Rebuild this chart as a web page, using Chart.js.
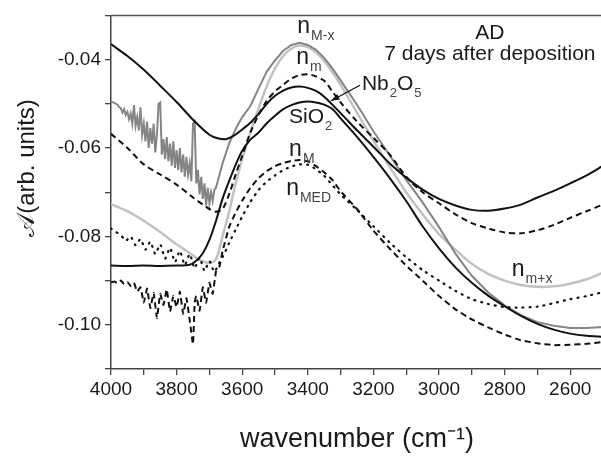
<!DOCTYPE html>
<html><head><meta charset="utf-8">
<script src="https://cdn.jsdelivr.net/npm/chart.js@4.4.1/dist/chart.umd.min.js"></script>
<style>
html,body{margin:0;padding:0;background:#fff;overflow:hidden;}
#wrap{position:relative;width:606px;height:457px;}
</style></head><body>
<div id="wrap"><canvas id="c"></canvas></div>
<script>
// ---------- data (wavenumber in cm^-1, absorbance in arb. units) ----------
const nb2o5X = [4000,3950,3900,3850,3800,3750,3700,3675,3650,3625,3600,3575,3550,3525,3500,3475,3450,3425,3400,3375,3350,3300,3250,3200,3150,3100,3050,3000,2950,2900,2850,2800,2750,2700,2650,2600,2550,2500];
const nb2o5Y = [-0.0365,-0.0392,-0.0423,-0.0459,-0.0496,-0.0536,-0.0570,-0.0578,-0.0580,-0.0572,-0.0558,-0.0543,-0.0523,-0.0500,-0.0482,-0.0470,-0.0463,-0.0461,-0.0464,-0.0471,-0.0484,-0.0521,-0.0560,-0.0597,-0.0635,-0.0667,-0.0694,-0.0715,-0.0730,-0.0740,-0.0742,-0.0737,-0.0728,-0.0712,-0.0697,-0.0680,-0.0662,-0.0640];

const sio2X = [4000,3950,3900,3850,3800,3760,3740,3720,3700,3680,3660,3640,3620,3600,3575,3550,3525,3500,3475,3450,3425,3400,3375,3350,3325,3300,3250,3200,3150,3100,3050,3000,2950,2900,2850,2800,2750,2700,2650,2600,2550,2500];
const sio2Y = [-0.0866,-0.0867,-0.0866,-0.0867,-0.0866,-0.0864,-0.0855,-0.0838,-0.0808,-0.0765,-0.0715,-0.0675,-0.0638,-0.0606,-0.0581,-0.0565,-0.0544,-0.0527,-0.0512,-0.0503,-0.0497,-0.0495,-0.0497,-0.0502,-0.0512,-0.0533,-0.0575,-0.0620,-0.0668,-0.0720,-0.0777,-0.0827,-0.0870,-0.0905,-0.0934,-0.0958,-0.0980,-0.0998,-0.1011,-0.1020,-0.1025,-0.1027];

const nMxX = [4000,3990,3980,3975,3970,3965,3960,3955,3950,3945,3940,3935,3930,3925,3920,3915,3910,3905,3900,3895,3890,3885,3880,3875,3870,3865,3860,3855,3850,3845,3840,3835,3830,3825,3820,3815,3810,3805,3800,3795,3790,3785,3780,3775,3770,3765,3760,3755,3750,3745,3740,3735,3730,3725,3720,3715,3710,3705,3700,3695,3690,3685,3680,3660,3640,3620,3600,3575,3550,3525,3500,3475,3450,3425,3400,3375,3350,3325,3300,3250,3200,3150,3100,3050,3000,2950,2900,2850,2800,2750,2700,2650,2600,2550,2500];
const nMxY = [-0.0495,-0.0498,-0.0502,-0.0508,-0.0510,-0.0520,-0.0512,-0.0525,-0.0518,-0.0535,-0.0522,-0.0545,-0.0503,-0.0550,-0.0530,-0.0560,-0.0508,-0.0570,-0.0545,-0.0585,-0.0540,-0.0600,-0.0555,-0.0590,-0.0545,-0.0610,-0.0570,-0.0500,-0.0497,-0.0615,-0.0580,-0.0625,-0.0575,-0.0630,-0.0590,-0.0640,-0.0585,-0.0645,-0.0605,-0.0650,-0.0600,-0.0655,-0.0615,-0.0665,-0.0620,-0.0660,-0.0635,-0.0675,-0.0545,-0.0540,-0.0680,-0.0650,-0.0705,-0.0665,-0.0715,-0.0680,-0.0730,-0.0690,-0.0725,-0.0700,-0.0720,-0.0695,-0.0690,-0.0635,-0.0590,-0.0557,-0.0530,-0.0505,-0.0465,-0.0427,-0.0402,-0.0380,-0.0367,-0.0362,-0.0367,-0.0378,-0.0396,-0.0420,-0.0447,-0.0502,-0.0562,-0.0617,-0.0672,-0.0723,-0.0779,-0.0839,-0.0889,-0.0927,-0.0956,-0.0978,-0.0994,-0.1002,-0.1007,-0.1007,-0.1005];

const nmxX = [4000,3950,3900,3850,3800,3750,3725,3700,3680,3660,3640,3620,3600,3575,3550,3525,3500,3475,3450,3425,3400,3375,3350,3325,3300,3250,3200,3150,3100,3050,3000,2950,2900,2850,2800,2750,2700,2650,2600,2550,2500];
const nmxY = [-0.0727,-0.0743,-0.0765,-0.0790,-0.0818,-0.0843,-0.0855,-0.0860,-0.0852,-0.0800,-0.0745,-0.0680,-0.0625,-0.0565,-0.0510,-0.0460,-0.0420,-0.0392,-0.0375,-0.0368,-0.0372,-0.0384,-0.0403,-0.0428,-0.0457,-0.0520,-0.0583,-0.0643,-0.0700,-0.0750,-0.0795,-0.0830,-0.0862,-0.0885,-0.0900,-0.0910,-0.0914,-0.0913,-0.0907,-0.0897,-0.0882];

const nmX = [4000,3950,3900,3850,3800,3750,3720,3700,3680,3660,3640,3620,3600,3575,3550,3525,3500,3475,3450,3425,3400,3375,3350,3325,3300,3250,3200,3150,3100,3050,3000,2950,2900,2850,2800,2750,2700,2650,2600,2550,2500];
const nmY = [-0.0568,-0.0600,-0.0637,-0.0660,-0.0683,-0.0712,-0.0728,-0.0738,-0.0744,-0.0738,-0.0705,-0.0660,-0.0618,-0.0565,-0.0525,-0.0493,-0.0472,-0.0457,-0.0443,-0.0435,-0.0433,-0.0438,-0.0448,-0.0472,-0.0497,-0.0540,-0.0577,-0.0615,-0.0665,-0.0700,-0.0725,-0.0750,-0.0770,-0.0782,-0.0791,-0.0793,-0.0786,-0.0774,-0.0758,-0.0743,-0.0728];

const nMX = [4000,3990,3980,3970,3960,3950,3940,3930,3920,3910,3900,3890,3880,3870,3860,3850,3840,3830,3820,3810,3800,3790,3780,3770,3760,3750,3745,3740,3730,3720,3710,3700,3690,3680,3670,3660,3640,3620,3600,3575,3550,3525,3500,3475,3450,3425,3400,3375,3350,3325,3300,3250,3200,3150,3100,3050,3000,2950,2900,2850,2800,2750,2700,2650,2600,2550,2500];
const nMY = [-0.0904,-0.0902,-0.0906,-0.0900,-0.0908,-0.0903,-0.0912,-0.0905,-0.0925,-0.0915,-0.0950,-0.0918,-0.0962,-0.0928,-0.0985,-0.0930,-0.0955,-0.0920,-0.0970,-0.0935,-0.0960,-0.0925,-0.0975,-0.0940,-0.0990,-0.1044,-0.0950,-0.0935,-0.0968,-0.0915,-0.0950,-0.0905,-0.0930,-0.0880,-0.0870,-0.0834,-0.0779,-0.0746,-0.0719,-0.0690,-0.0668,-0.0652,-0.0641,-0.0634,-0.0629,-0.0627,-0.0630,-0.0641,-0.0655,-0.0672,-0.0698,-0.0738,-0.0787,-0.0828,-0.0866,-0.0900,-0.0935,-0.0965,-0.0988,-0.1006,-0.1022,-0.1035,-0.1042,-0.1046,-0.1045,-0.1043,-0.1039];

const nMEDX = [4000,3985,3970,3955,3940,3925,3910,3895,3880,3865,3850,3835,3820,3805,3790,3775,3760,3745,3730,3715,3700,3685,3670,3655,3640,3620,3600,3575,3550,3525,3500,3475,3450,3425,3400,3375,3350,3325,3300,3250,3200,3150,3100,3050,3000,2950,2900,2850,2800,2750,2700,2650,2600,2550,2500];
const nMEDY = [-0.0782,-0.0790,-0.0797,-0.0810,-0.0800,-0.0820,-0.0806,-0.0830,-0.0812,-0.0840,-0.0818,-0.0850,-0.0826,-0.0858,-0.0833,-0.0865,-0.0840,-0.0872,-0.0848,-0.0878,-0.0856,-0.0880,-0.0860,-0.0840,-0.0815,-0.0785,-0.0755,-0.0722,-0.0695,-0.0676,-0.0662,-0.0650,-0.0642,-0.0637,-0.0638,-0.0648,-0.0663,-0.0684,-0.0705,-0.0740,-0.0777,-0.0814,-0.0847,-0.0876,-0.0900,-0.0923,-0.0942,-0.0953,-0.0960,-0.0961,-0.0959,-0.0951,-0.0942,-0.0935,-0.0926];

const xTickLabels = [4000,3800,3600,3400,3200,3000,2800,2600];
const yTickLabels = [-0.04,-0.06,-0.08,-0.10];

const pts = (xs, ys) => xs.map((x, i) => ({x, y: ys[i]}));

const FONT = '"Liberation Sans", Arial, sans-serif';

// annotation texts (segments: [text, isSubscript])
const notes = [
  {segs: [['AD',0]], x: 2845, y: -0.03542, center: true, size: 21},
  {segs: [['7 days after deposition',0]], x: 2845, y: -0.0400, center: true, size: 21},
  {segs: [['n',0],['M-x',1]], x: 3432, y: -0.0340, size: 23},
  {segs: [['n',0],['m',1]], x: 3435, y: -0.0409, size: 23},
  {segs: [['Nb',0],['2',1],['O',0],['5',1]], x: 3235, y: -0.0469, size: 21},
  {segs: [['SiO',0],['2',1]], x: 3457, y: -0.0544, size: 21},
  {segs: [['n',0],['M',1]], x: 3457, y: -0.0617, size: 23},
  {segs: [['n',0],['MED',1]], x: 3466, y: -0.0706, size: 23},
  {segs: [['n',0],['m+x',1]], x: 2778, y: -0.0890, size: 23}
];

const annot = {
  id: 'annot',
  afterDraw(chart) {
    const {ctx, chartArea: a, scales: {x, y}} = chart;
    ctx.save();
    ctx.strokeStyle = '#555'; ctx.lineWidth = 1.5;
    ctx.beginPath(); ctx.moveTo(a.left, a.top); ctx.lineTo(a.right + 2, a.top); ctx.stroke();
    ctx.textBaseline = 'alphabetic';
    for (const n of notes) {
      const subSize = Math.round(n.size * 0.6);
      let w = 0;
      for (const [t, s] of n.segs) {
        ctx.font = (s ? subSize : n.size) + 'px ' + FONT;
        w += ctx.measureText(t).width + (s ? 1 : 0);
      }
      let px = x.getPixelForValue(n.x);
      const py = y.getPixelForValue(n.y);
      if (n.center) px -= w / 2;
      for (const [t, s] of n.segs) {
        ctx.font = (s ? subSize : n.size) + 'px ' + FONT;
        ctx.fillStyle = s ? '#444' : '#1a1a1a';
        ctx.fillText(t, px + (s ? 1 : 0), py + (s ? 7 : 0));
        px += ctx.measureText(t).width + (s ? 1 : 0);
      }
    }
    const x1 = x.getPixelForValue(3241), y1 = y.getPixelForValue(-0.0458);
    const x2 = x.getPixelForValue(3329), y2 = y.getPixelForValue(-0.0493);
    ctx.strokeStyle = '#111'; ctx.lineWidth = 1.3;
    ctx.beginPath(); ctx.moveTo(x1, y1); ctx.lineTo(x2, y2); ctx.stroke();
    const ang = Math.atan2(y2 - y1, x2 - x1);
    ctx.fillStyle = '#111';
    ctx.beginPath();
    ctx.moveTo(x2, y2);
    ctx.lineTo(x2 - 9 * Math.cos(ang - 0.35), y2 - 9 * Math.sin(ang - 0.35));
    ctx.lineTo(x2 - 9 * Math.cos(ang + 0.35), y2 - 9 * Math.sin(ang + 0.35));
    ctx.closePath(); ctx.fill();
    ctx.translate(27, 168);
    ctx.rotate(-Math.PI / 2);
    ctx.textAlign = 'center';
    ctx.textBaseline = 'middle';
    ctx.font = '24px ' + FONT;
    ctx.fillStyle = '#1a1a1a';
    ctx.fillText('\u{1D49C}(arb. units)', 0, 0);
    ctx.restore();
  }
};

const common = {pointRadius: 0, fill: false, showLine: true};

new Chart(document.getElementById('c'), {
  type: 'scatter',
  data: {
    datasets: [
      {...common, label: 'Nb2O5', data: pts(nb2o5X, nb2o5Y), borderColor: '#111', borderWidth: 2, tension: 0.3},
      {...common, label: 'SiO2', data: pts(sio2X, sio2Y), borderColor: '#111', borderWidth: 2, tension: 0.3},
      {...common, label: 'nm', data: pts(nmX, nmY), borderColor: '#111', borderWidth: 2, borderDash: [6, 4], tension: 0.3},
      {...common, label: 'nM', data: pts(nMX, nMY), borderColor: '#111', borderWidth: 2, borderDash: [6, 4], tension: 0.1},
      {...common, label: 'nMED', data: pts(nMEDX, nMEDY), borderColor: '#111', borderWidth: 2.2, borderDash: [1, 6], borderCapStyle: 'round', tension: 0.2},
      {...common, label: 'nM-x', data: pts(nMxX, nMxY), borderColor: '#858585', borderWidth: 2, tension: 0},
      {...common, label: 'nm+x', data: pts(nmxX, nmxY), borderColor: '#c2c2c2', borderWidth: 2.5, tension: 0.3}
    ]
  },
  options: {
    responsive: true,
    maintainAspectRatio: false,
    animation: false,
    devicePixelRatio: 1,
    layout: {padding: {top: 9, right: 2, left: 0, bottom: 0}},
    plugins: {legend: {display: false}, tooltip: {enabled: false}},
    scales: {
      x: {
        type: 'linear', reverse: true, min: 2500, max: 4000,
        afterFit(s) { s.height = 88; },
        border: {display: true, color: '#444', width: 1.5},
        grid: {drawOnChartArea: false, drawTicks: true, tickLength: 6, color: '#444', lineWidth: 1.3},
        ticks: {
          stepSize: 100, padding: 3, color: '#1a1a1a', font: {family: FONT, size: 19},
          maxRotation: 0, autoSkip: false,
          callback: v => xTickLabels.includes(Math.round(v)) ? String(Math.round(v)) : ''
        },
        title: {display: true, text: 'wavenumber (cm\u207B\u00B9)', color: '#1a1a1a', font: {family: FONT, size: 27}, padding: {top: 0, bottom: 1}}
      },
      y: {
        type: 'linear', min: -0.11, max: -0.03,
        afterFit(s) { s.width = 111; },
        border: {display: true, color: '#444', width: 1.5},
        grid: {drawOnChartArea: false, drawTicks: true, tickLength: 6, color: '#444', lineWidth: 1.3},
        ticks: {
          stepSize: 0.01, padding: 4, color: '#1a1a1a', font: {family: FONT, size: 19},
          autoSkip: false,
          callback: v => yTickLabels.some(t => Math.abs(t - v) < 1e-6) ? v.toFixed(2) : ''
        }
      }
    }
  },
  plugins: [annot]
});
</script>
</body></html>
